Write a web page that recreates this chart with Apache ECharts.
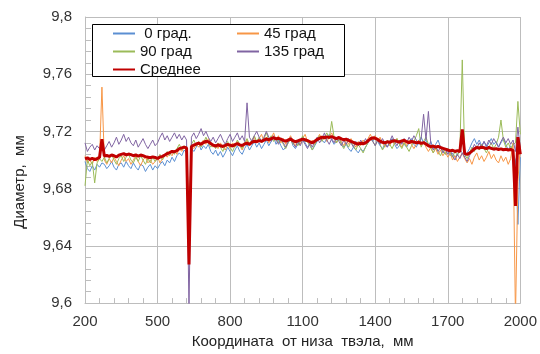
<!DOCTYPE html>
<html>
<head>
<meta charset="utf-8">
<script src="https://cdn.jsdelivr.net/npm/echarts@6/dist/echarts.min.js"></script>
<style>
  html, body { margin: 0; padding: 0; background: #fff; }
  #chart { width: 540px; height: 354px; }
</style>
</head>
<body>
<div id="chart"></div>
<script>
// Fuel-rod outer diameter (mm) along the rod, measured at four angular positions.
// Samples every 10 mm from 200 mm to 2000 mm (181 points per series).
const START_MM = 200;
const STEP_MM = 10;

const xTicksMm = [200, 500, 800, 1100, 1400, 1700, 2000];
const yTicks = [9.6, 9.64, 9.68, 9.72, 9.76, 9.8];

const seriesNames = ['0 град.', '45 град', '90 град', '135 град', 'Среднее'];

const deg0 = [
  9.699,9.694,9.692,9.696,9.693,9.697,9.695,9.698,9.697,9.694,
  9.696,9.699,9.695,9.693,9.697,9.698,9.695,9.699,9.696,9.694,
  9.698,9.695,9.693,9.697,9.696,9.692,9.695,9.697,9.693,9.696,
  9.694,9.697,9.699,9.696,9.700,9.698,9.702,9.699,9.703,9.705,
  9.703,9.707,9.705,9.640,9.708,9.706,9.709,9.712,9.707,9.710,
  9.708,9.711,9.706,9.704,9.707,9.703,9.706,9.702,9.705,9.709,
  9.706,9.703,9.707,9.710,9.706,9.704,9.708,9.711,9.707,9.710,
  9.713,9.709,9.712,9.708,9.711,9.714,9.710,9.713,9.716,9.711,
  9.714,9.710,9.707,9.709,9.712,9.715,9.710,9.708,9.711,9.713,
  9.716,9.712,9.709,9.711,9.707,9.710,9.713,9.716,9.714,9.712,
  9.715,9.718,9.714,9.711,9.713,9.716,9.712,9.709,9.711,9.708,
  9.706,9.709,9.707,9.705,9.708,9.706,9.709,9.712,9.715,9.713,
  9.717,9.713,9.710,9.708,9.711,9.709,9.712,9.715,9.711,9.708,
  9.710,9.713,9.711,9.709,9.712,9.715,9.711,9.709,9.713,9.716,
  9.712,9.714,9.710,9.713,9.708,9.711,9.714,9.709,9.706,9.704,
  9.707,9.703,9.705,9.702,9.704,9.707,9.705,9.702,9.705,9.708,
  9.712,9.715,9.711,9.714,9.710,9.713,9.709,9.712,9.715,9.711,
  9.713,9.709,9.712,9.715,9.711,9.707,9.710,9.705,9.700,9.655,
  9.702
];

const deg45 = [
  9.703,9.698,9.700,9.697,9.702,9.699,9.701,9.751,9.700,9.697,
  9.701,9.698,9.702,9.699,9.696,9.700,9.703,9.699,9.701,9.697,
  9.700,9.703,9.699,9.696,9.700,9.702,9.698,9.700,9.697,9.699,
  9.702,9.698,9.701,9.704,9.702,9.705,9.703,9.707,9.704,9.708,
  9.706,9.709,9.707,9.650,9.710,9.708,9.711,9.709,9.712,9.714,
  9.711,9.715,9.712,9.709,9.711,9.708,9.712,9.709,9.707,9.711,
  9.708,9.712,9.709,9.713,9.710,9.707,9.711,9.714,9.710,9.713,
  9.716,9.712,9.715,9.718,9.713,9.716,9.712,9.715,9.719,9.714,
  9.717,9.712,9.715,9.711,9.714,9.717,9.713,9.710,9.714,9.711,
  9.715,9.718,9.713,9.710,9.714,9.711,9.715,9.718,9.714,9.717,
  9.713,9.716,9.719,9.715,9.712,9.716,9.713,9.710,9.714,9.711,
  9.715,9.712,9.709,9.713,9.710,9.714,9.711,9.715,9.718,9.714,
  9.717,9.713,9.716,9.712,9.709,9.713,9.710,9.714,9.711,9.715,
  9.712,9.709,9.713,9.710,9.714,9.711,9.708,9.711,9.714,9.710,
  9.713,9.709,9.706,9.709,9.705,9.708,9.704,9.707,9.703,9.706,
  9.702,9.705,9.700,9.703,9.699,9.702,9.705,9.701,9.698,9.701,
  9.697,9.702,9.705,9.700,9.703,9.699,9.702,9.706,9.701,9.704,
  9.700,9.698,9.703,9.699,9.702,9.697,9.701,9.712,9.590,9.685,
  9.710
];

const deg90 = [
  9.682,9.700,9.696,9.699,9.684,9.698,9.701,9.699,9.702,9.698,
  9.701,9.704,9.700,9.697,9.701,9.703,9.699,9.702,9.704,9.700,
  9.698,9.702,9.699,9.703,9.700,9.697,9.701,9.698,9.702,9.699,
  9.701,9.704,9.700,9.703,9.706,9.703,9.707,9.704,9.708,9.711,
  9.707,9.710,9.708,9.660,9.711,9.714,9.710,9.713,9.709,9.712,
  9.716,9.712,9.709,9.711,9.708,9.712,9.709,9.706,9.710,9.713,
  9.709,9.706,9.710,9.714,9.711,9.708,9.712,9.715,9.711,9.714,
  9.717,9.713,9.716,9.712,9.715,9.719,9.714,9.717,9.713,9.716,
  9.712,9.715,9.711,9.708,9.712,9.715,9.711,9.714,9.710,9.713,
  9.717,9.713,9.713,9.710,9.707,9.711,9.714,9.717,9.713,9.716,
  9.719,9.715,9.727,9.716,9.712,9.715,9.711,9.708,9.712,9.709,
  9.713,9.710,9.707,9.711,9.708,9.705,9.709,9.712,9.716,9.713,
  9.710,9.714,9.711,9.707,9.710,9.714,9.711,9.708,9.712,9.715,
  9.711,9.708,9.712,9.709,9.706,9.710,9.713,9.717,9.722,9.709,
  9.713,9.716,9.711,9.708,9.705,9.709,9.706,9.703,9.707,9.704,
  9.708,9.705,9.702,9.706,9.703,9.707,9.770,9.704,9.701,9.705,
  9.709,9.706,9.710,9.707,9.711,9.708,9.705,9.709,9.712,9.708,
  9.711,9.716,9.728,9.714,9.709,9.712,9.708,9.711,9.712,9.741,
  9.718
];

const deg135 = [
  9.712,9.706,9.709,9.711,9.707,9.710,9.708,9.711,9.707,9.710,
  9.713,9.709,9.712,9.716,9.711,9.714,9.718,9.713,9.716,9.712,
  9.710,9.714,9.709,9.712,9.715,9.711,9.708,9.711,9.714,9.710,
  9.712,9.716,9.719,9.714,9.717,9.713,9.716,9.719,9.715,9.718,
  9.714,9.717,9.714,9.595,9.716,9.719,9.715,9.718,9.722,9.717,
  9.720,9.716,9.713,9.716,9.712,9.715,9.718,9.714,9.711,9.715,
  9.718,9.713,9.716,9.719,9.714,9.717,9.713,9.740,9.716,9.713,
  9.717,9.720,9.716,9.713,9.716,9.720,9.716,9.713,9.717,9.714,
  9.711,9.715,9.712,9.709,9.713,9.716,9.712,9.709,9.713,9.710,
  9.714,9.711,9.708,9.712,9.709,9.713,9.716,9.712,9.715,9.719,
  9.714,9.711,9.715,9.712,9.716,9.713,9.710,9.714,9.711,9.715,
  9.712,9.709,9.713,9.710,9.714,9.711,9.715,9.712,9.716,9.713,
  9.710,9.714,9.711,9.715,9.712,9.709,9.713,9.717,9.713,9.710,
  9.714,9.711,9.715,9.712,9.716,9.713,9.717,9.714,9.711,9.715,
  9.732,9.714,9.734,9.711,9.707,9.710,9.706,9.709,9.705,9.708,
  9.704,9.707,9.703,9.700,9.704,9.701,9.705,9.702,9.699,9.703,
  9.707,9.711,9.708,9.712,9.709,9.713,9.710,9.714,9.711,9.715,
  9.712,9.709,9.713,9.716,9.712,9.715,9.711,9.714,9.706,9.723,
  9.708
];

const avgDiam = [
  9.7008,9.7015,9.7005,9.7012,9.7002,9.7010,9.7018,9.7145,9.7028,9.7032,
  9.7025,9.7035,9.7030,9.7022,9.7034,9.7040,9.7045,9.7036,9.7042,9.7038,
  9.7030,9.7036,9.7028,9.7035,9.7030,9.7024,9.7020,9.7016,9.7022,9.7018,
  9.7012,9.7020,9.7026,9.7035,9.7045,9.7052,9.7060,9.7058,9.7066,9.7080,
  9.7085,9.7090,9.7084,9.6270,9.7095,9.7105,9.7112,9.7118,9.7110,9.7122,
  9.7132,9.7128,9.7115,9.7104,9.7098,9.7106,9.7100,9.7095,9.7102,9.7110,
  9.7104,9.7098,9.7108,9.7115,9.7106,9.7102,9.7112,9.7118,9.7110,9.7124,
  9.7132,9.7128,9.7136,9.7130,9.7140,9.7148,9.7142,9.7150,9.7156,9.7148,
  9.7152,9.7146,9.7138,9.7132,9.7140,9.7146,9.7136,9.7128,9.7134,9.7140,
  9.7146,9.7142,9.7136,9.7128,9.7120,9.7132,9.7144,9.7152,9.7160,9.7156,
  9.7162,9.7158,9.7164,9.7156,9.7150,9.7158,9.7148,9.7142,9.7146,9.7138,
  9.7130,9.7124,9.7116,9.7112,9.7118,9.7114,9.7120,9.7134,9.7148,9.7156,
  9.7152,9.7144,9.7132,9.7124,9.7120,9.7128,9.7124,9.7132,9.7136,9.7130,
  9.7126,9.7134,9.7138,9.7128,9.7122,9.7130,9.7126,9.7120,9.7124,9.7116,
  9.7122,9.7112,9.7100,9.7094,9.7098,9.7090,9.7096,9.7088,9.7082,9.7076,
  9.7070,9.7064,9.7068,9.7060,9.7066,9.7058,9.7214,9.7045,9.7040,9.7048,
  9.7062,9.7078,9.7088,9.7084,9.7090,9.7086,9.7080,9.7088,9.7082,9.7076,
  9.7080,9.7074,9.7078,9.7072,9.7076,9.7070,9.7074,9.7068,9.6680,9.7160,
  9.7040
];

const coordMm = deg0.map((_, i) => START_MM + i * STEP_MM);

const FONT = '"Liberation Sans", Arial, sans-serif';
const GRID_COLOR = '#bdbdbd';
const colors = ['#5b8fd2', '#f79646', '#9bbb59', '#8064a2', '#c00000'];
const valueSets = [deg0, deg45, deg90, deg135, avgDiam];

// The x axis runs on an offset scale (mm above the first tick) so that
// the tick grid starts exactly at the first labelled coordinate.
const X0 = xTicksMm[0];
const X_STEP = xTicksMm[1] - xTicksMm[0];
const X_SPAN = xTicksMm[xTicksMm.length - 1] - X0;

const Y_MIN = yTicks[0];
const Y_MAX = yTicks[yTicks.length - 1];
const Y_STEP = +(yTicks[1] - yTicks[0]).toFixed(4);

const series = seriesNames.map((name, k) => ({
  name,
  type: 'line',
  data: coordMm.map((x, i) => [x - X0, valueSets[k][i]]),
  symbol: 'none',
  showSymbol: false,
  clip: true,
  animation: false,
  z: 2 + k,
  lineStyle: { color: colors[k], width: k === 4 ? 3 : 1 },
  itemStyle: { color: colors[k] }
}));

// Legend entries show only the line sample, no point marker.
const legendCommon = {
  orient: 'vertical',
  itemWidth: 22, itemHeight: 10, itemGap: 1,
  padding: 0,
  itemStyle: { opacity: 0 },
  textStyle: { fontSize: 15, color: '#111', fontFamily: FONT, lineHeight: 17 }
};

const chart = echarts.init(document.getElementById('chart'), null, { renderer: 'canvas' });
chart.setOption({
  animation: false,
  textStyle: { fontFamily: FONT },
  grid: { left: 85, right: 15, top: 17, bottom: 50, containLabel: false },
  xAxis: {
    type: 'value',
    min: 0,
    max: X_SPAN,
    interval: X_STEP,
    name: 'Координата  от низа  твэла,  мм',
    nameLocation: 'middle',
    nameGap: 30,
    nameTextStyle: { fontSize: 15, color: '#222', fontFamily: FONT },
    axisLine: { show: true, lineStyle: { color: GRID_COLOR, width: 1 } },
    axisTick: { show: true, inside: true, length: 5, lineStyle: { color: GRID_COLOR } },
    minorTick: { show: true, splitNumber: 5, length: 5, lineStyle: { color: GRID_COLOR } },
    axisLabel: {
      fontSize: 15, color: '#333', margin: 11, fontFamily: FONT,
      formatter: v => String(Math.round(v + X0))
    },
    splitLine: { show: true, lineStyle: { color: GRID_COLOR, width: 1 } }
  },
  yAxis: {
    type: 'value',
    min: Y_MIN,
    max: Y_MAX,
    interval: Y_STEP,
    axisLine: { show: true, lineStyle: { color: GRID_COLOR, width: 1 } },
    axisTick: { show: true, inside: true, length: 6, lineStyle: { color: GRID_COLOR } },
    minorTick: { show: true, splitNumber: 5, length: 6, lineStyle: { color: GRID_COLOR } },
    axisLabel: {
      fontSize: 15, color: '#333', margin: 13, fontFamily: FONT,
      formatter: v => String(Math.round(v * 100) / 100).replace('.', ',')
    },
    splitLine: { show: true, lineStyle: { color: GRID_COLOR, width: 1 } }
  },
  legend: [
    Object.assign({}, legendCommon, {
      data: [seriesNames[0], seriesNames[2], seriesNames[4]],
      left: 112, top: 25,
      formatter: n => (n === seriesNames[0] ? ' ' + n : n)
    }),
    Object.assign({}, legendCommon, {
      data: [seriesNames[1], seriesNames[3]],
      left: 236, top: 25
    })
  ],
  graphic: [
    {
      type: 'rect',
      z: 3,
      shape: { x: 92.5, y: 24.5, width: 252, height: 52 },
      style: { fill: '#fff', stroke: '#000', lineWidth: 1 }
    },
    {
      type: 'text',
      z: 5,
      x: 20, y: 182,
      rotation: Math.PI / 2,
      style: {
        text: 'Диаметр,  мм',
        font: '15px ' + FONT,
        fill: '#222',
        align: 'center',
        verticalAlign: 'middle'
      }
    }
  ],
  series
});
</script>
</body>
</html>
